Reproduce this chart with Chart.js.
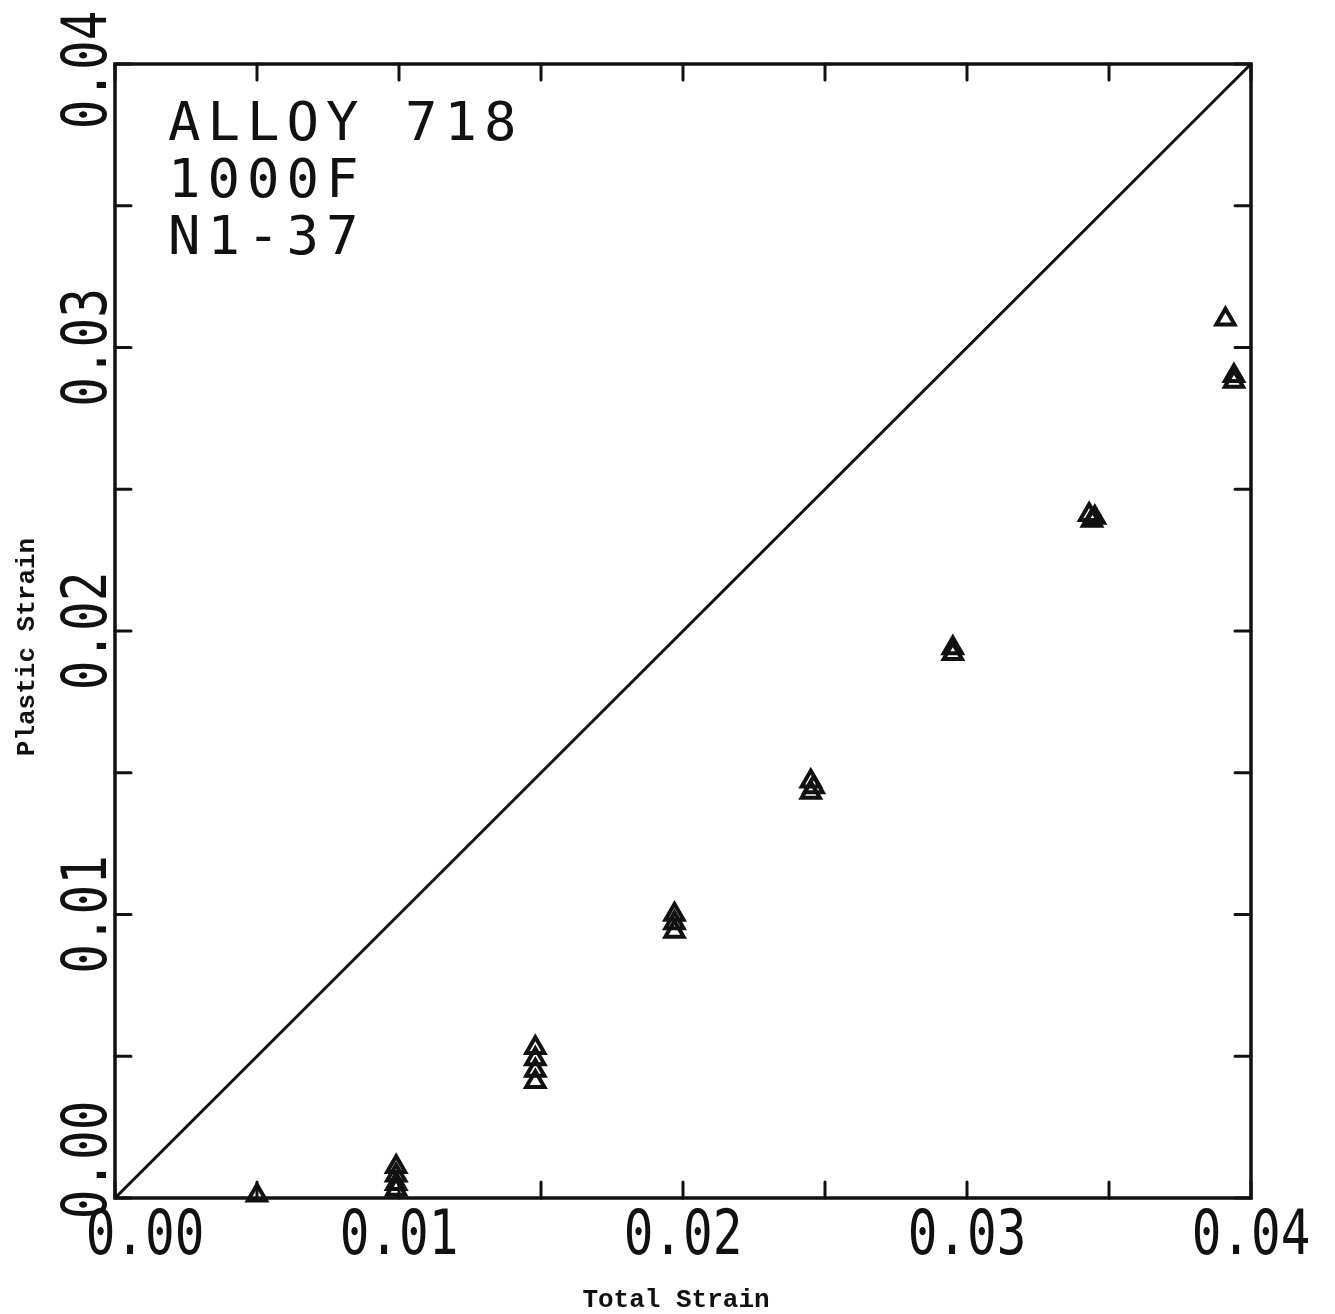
<!DOCTYPE html>
<html>
<head>
<meta charset="utf-8">
<title>Alloy 718 - Plastic vs Total Strain</title>
<script src="https://cdn.jsdelivr.net/npm/chart.js@4/dist/chart.umd.min.js"></script>
<style>
  html, body { margin: 0; padding: 0; background: #fff; }
  canvas { display: block; }
</style>
</head>
<body>
<canvas id="chart" width="1335" height="1314"></canvas>
<script>
const totalStrain = [
  0.0050,
  0.0099, 0.0099, 0.0099, 0.0099,
  0.0148, 0.0148, 0.0148, 0.0148,
  0.0197, 0.0197, 0.0197,
  0.0245, 0.0246, 0.0245,
  0.0295, 0.0295,
  0.0343, 0.0345, 0.0344,
  0.0391,
  0.0394, 0.0394
];
const plasticStrain = [
  0.0001,
  0.0011, 0.0008, 0.0005, 0.0003,
  0.0053, 0.0049, 0.0045, 0.0041,
  0.0100, 0.0097, 0.0094,
  0.0147, 0.0145, 0.0143,
  0.0194, 0.0192,
  0.0241, 0.0240, 0.0239,
  0.0310,
  0.0290, 0.0288
];

// Reference line, plastic = total
const diagonalX = [0, 0.04];
const diagonalY = [0, 0.04];

// Axis ticks
const majorTicks = [0, 0.01, 0.02, 0.03, 0.04];
const minorTicks = [0.005, 0.015, 0.025, 0.035];
const tickLabels = ['0.00', '0.01', '0.02', '0.03', '0.04'];

// Texts
const noteLines = ['ALLOY 718', '1000F', 'N1-37'];
const xTitle = 'Total Strain';
const yTitle = 'Plastic Strain';

const INK = '#111';
const TICK = 16;
const PLOT_FONT = '"DejaVu Sans Mono", monospace';
const TYPE_FONT = '"Liberation Mono", "DejaVu Sans Mono", monospace';

// plotter digits are narrower and taller than DejaVu
function plotterText(ctx, text) {
  ctx.scale(0.88, 1.1);
  ctx.fillText(text, 0, 0);
}

// Frame, inward ticks, tick labels, note and axis titles
const framePlugin = {
  id: 'frame',
  afterDatasetsDraw(chart) {
    const { ctx, chartArea: a, scales: { x, y } } = chart;
    ctx.save();
    ctx.strokeStyle = INK;
    ctx.fillStyle = INK;
    ctx.lineWidth = 3.5;
    ctx.lineCap = 'round';
    ctx.strokeRect(a.left, a.top, a.right - a.left, a.bottom - a.top);

    // ticks point inwards on all four sides
    ctx.lineWidth = 3;
    majorTicks.concat(minorTicks).forEach(v => {
      const px = x.getPixelForValue(v);
      const py = y.getPixelForValue(v);
      ctx.beginPath();
      ctx.moveTo(px, a.bottom); ctx.lineTo(px, a.bottom - TICK);
      ctx.moveTo(px, a.top); ctx.lineTo(px, a.top + TICK);
      ctx.moveTo(a.left, py); ctx.lineTo(a.left + TICK, py);
      ctx.moveTo(a.right, py); ctx.lineTo(a.right - TICK, py);
      ctx.stroke();
    });

    // tick labels
    ctx.font = '56px ' + PLOT_FONT;
    ctx.textAlign = 'center';
    ctx.textBaseline = 'alphabetic';
    majorTicks.forEach((v, i) => {
      const shift = i === 0 ? 30 : 0;
      ctx.save();
      ctx.translate(x.getPixelForValue(v) + shift, a.bottom + 56);
      plotterText(ctx, tickLabels[i]);
      ctx.restore();
    });
    majorTicks.forEach((v, i) => {
      const shift = i === 0 ? -38 : (i === 4 ? 6 : 0);
      ctx.save();
      ctx.translate(a.left - 9, y.getPixelForValue(v) + shift);
      ctx.rotate(-Math.PI / 2);
      plotterText(ctx, tickLabels[i]);
      ctx.restore();
    });

    // note in the upper left corner
    ctx.font = '54px ' + PLOT_FONT;
    ctx.textAlign = 'left';
    ctx.letterSpacing = '7px';
    noteLines.forEach((line, i) => {
      ctx.fillText(line, a.left + 53, a.top + 76 + i * 57);
    });
    ctx.letterSpacing = '0px';

    // axis titles
    ctx.font = 'bold 26px ' + TYPE_FONT;
    ctx.textAlign = 'center';
    ctx.fillText(xTitle, 676, 1307);
    ctx.save();
    ctx.translate(34, 647);
    ctx.rotate(-Math.PI / 2);
    ctx.fillText(yTitle, 0, 0);
    ctx.restore();

    ctx.restore();
  }
};

const points = totalStrain.map((t, i) => ({ x: t, y: plasticStrain[i] }));
const diagonal = diagonalX.map((t, i) => ({ x: t, y: diagonalY[i] }));

new Chart(document.getElementById('chart'), {
  type: 'scatter',
  data: {
    datasets: [
      {
        type: 'line',
        data: diagonal,
        borderColor: INK,
        borderWidth: 3,
        pointRadius: 0,
        fill: false
      },
      {
        data: points,
        pointStyle: 'triangle',
        pointRadius: 10.5,
        borderColor: INK,
        borderWidth: 4,
        backgroundColor: 'rgba(0,0,0,0)',
        clip: false
      }
    ]
  },
  options: {
    responsive: false,
    animation: false,
    events: [],
    layout: { padding: { left: 115, right: 84, top: 64, bottom: 116 } },
    plugins: {
      legend: { display: false },
      tooltip: { enabled: false }
    },
    scales: {
      x: { type: 'linear', min: 0, max: 0.04, display: false },
      y: { type: 'linear', min: 0, max: 0.04, display: false }
    }
  },
  plugins: [framePlugin]
});
</script>
</body>
</html>
